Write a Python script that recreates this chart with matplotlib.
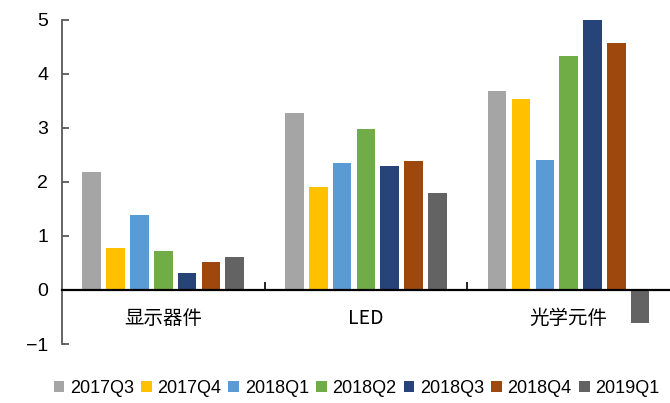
import numpy as np
import matplotlib
matplotlib.use("Agg")
import matplotlib.pyplot as plt

plt.rcParams['font.family'] = ['Liberation Sans', 'Noto Sans CJK SC', 'DejaVu Sans']

# product groups and quarterly values
categories = ['显示器件', 'LED', '光学元件']
quarters = ['2017Q3', '2017Q4', '2018Q1', '2018Q2', '2018Q3', '2018Q4', '2019Q1']
values = {
    '2017Q3': [2.19, 3.28, 3.69],
    '2017Q4': [0.78, 1.90, 3.53],
    '2018Q1': [1.38, 2.35, 2.40],
    '2018Q2': [0.73, 2.99, 4.34],
    '2018Q3': [0.31, 2.30, 5.05],
    '2018Q4': [0.52, 2.39, 4.58],
    '2019Q1': [0.62, 1.79, -0.62],
}
colors = ['#a5a5a5', '#ffc000', '#5b9bd5', '#70ad47', '#264478', '#9e480e', '#636363']

fig = plt.figure(figsize=(6.7, 4.03), dpi=100)
ax = fig.add_axes([0.0925, 0.1464, 0.9075, 0.804])

x = np.arange(len(categories))
pitch = 0.1176
width = 0.092
for i, (q, c) in enumerate(zip(quarters, colors)):
    offs = (i - 3) * pitch
    ax.bar(x + offs, values[q], width, color=c, label=q, zorder=2)

ax.set_xlim(-0.5, 2.5)
ax.set_ylim(-1, 5)
ax.set_yticks([-1, 0, 1, 2, 3, 4, 5])
ax.set_yticklabels(['\u22121', '0', '1', '2', '3', '4', '5'])

for s in ['top', 'right']:
    ax.spines[s].set_visible(False)
ax.spines['left'].set_color('#595959')
ax.spines['left'].set_linewidth(1.3)
ax.spines['bottom'].set_position(('data', 0))
ax.spines['bottom'].set_color('black')
ax.spines['bottom'].set_linewidth(1.6)
ax.spines['bottom'].set_zorder(3)

ax.tick_params(axis='y', direction='in', length=5, width=1.3, color='#595959',
               labelsize=14, pad=10)

# group labels below the zero line, boundary ticks on the axis
ax.set_xticks(x)
ax.set_xticklabels(categories, fontsize=14, family=['Noto Sans CJK SC', 'DejaVu Sans'])
ax.tick_params(axis='x', which='major', length=0, pad=13)
ax.set_xticks([0.5, 1.5], minor=True)
ax.tick_params(axis='x', which='minor', direction='in', length=6, width=1.2, color='black')

fig.legend(loc='lower center', bbox_to_anchor=(0.532, -0.025), ncol=7, frameon=False,
           fontsize=13, handlelength=0.6, handleheight=0.6, handletextpad=0.3,
           columnspacing=0.4)

fig.savefig('out.png', dpi=100)
